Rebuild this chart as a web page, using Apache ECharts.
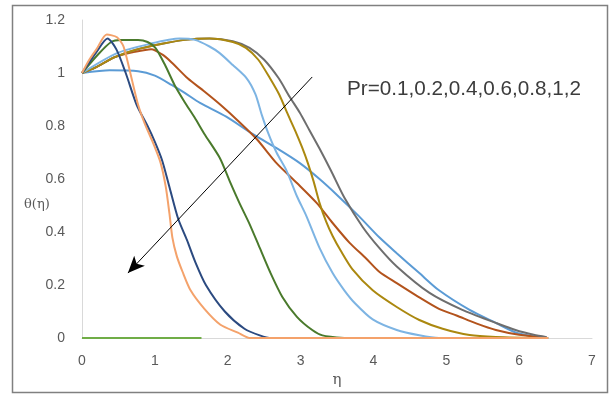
<!DOCTYPE html>
<html>
<head>
<meta charset="utf-8">
<script src="https://cdn.jsdelivr.net/npm/echarts@6/dist/echarts.min.js"></script>
<style>
html,body{margin:0;padding:0;background:#fff;}
#chart{width:611px;height:394px;}
</style>
</head>
<body>
<div id="chart"></div>
<script>
// tick labels
const xTicks = [0, 1, 2, 3, 4, 5, 6, 7];
const yTicks = [0, 0.2, 0.4, 0.6, 0.8, 1, 1.2];
const legendText = 'Pr=0.1,0.2,0.4,0.6,0.8,1,2';

// curves: [eta, theta]
const flatBlue = [[0,1],[0.38,1.01],[0.77,1.007],[1.0,0.99],[1.23,0.955],[1.41,0.925],[1.62,0.887],[1.98,0.835],[2.34,0.77],[2.71,0.71],[2.99,0.66],[3.26,0.6],[3.5,0.54],[3.8,0.46],[4.08,0.38],[4.32,0.32],[4.63,0.245],[4.9,0.18],[5.32,0.106],[5.68,0.057],[5.96,0.02],[6.23,0.005],[6.38,0]];
const brown = [[0,1],[0.18,1.02],[0.45,1.06],[0.73,1.08],[0.95,1.09],[1.1,1.07],[1.23,1.04],[1.45,0.98],[1.68,0.93],[1.9,0.88],[2.14,0.82],[2.4,0.75],[2.67,0.66],[2.95,0.585],[3.22,0.51],[3.44,0.434],[3.67,0.36],[3.9,0.3],[4.08,0.25],[4.32,0.207],[4.59,0.16],[4.9,0.11],[5.14,0.085],[5.41,0.055],[5.68,0.03],[6.0,0.012],[6.38,0]];
const gray = [[0,1],[0.18,1.02],[0.45,1.06],[0.73,1.087],[1.1,1.11],[1.41,1.125],[1.75,1.13],[2.07,1.12],[2.3,1.095],[2.5,1.05],[2.7,0.98],[2.85,0.91],[2.99,0.85],[3.12,0.785],[3.26,0.715],[3.42,0.63],[3.6,0.53],[3.85,0.42],[4.08,0.34],[4.32,0.27],[4.77,0.17],[5.22,0.106],[5.68,0.057],[5.95,0.03],[6.2,0.012],[6.38,0.003]];
const gold = [[0,1],[0.18,1.02],[0.45,1.06],[0.73,1.087],[1.1,1.11],[1.41,1.125],[1.75,1.13],[2.07,1.117],[2.25,1.095],[2.42,1.05],[2.58,0.98],[2.71,0.917],[2.81,0.853],[2.93,0.78],[3.02,0.72],[3.1,0.66],[3.18,0.59],[3.26,0.51],[3.35,0.44],[3.44,0.385],[3.55,0.33],[3.71,0.26],[3.99,0.18],[4.32,0.117],[4.63,0.068],[4.95,0.035],[5.32,0.011],[5.68,0.004],[6.4,0]];
const steepBlue = [[0,1],[0.48,1.075],[0.93,1.11],[1.34,1.13],[1.55,1.125],[1.75,1.1],[1.89,1.075],[2.07,1.03],[2.26,0.98],[2.38,0.92],[2.47,0.84],[2.56,0.77],[2.67,0.7],[2.81,0.63],[2.95,0.535],[3.08,0.46],[3.26,0.34],[3.44,0.245],[3.6,0.18],[3.75,0.13],[3.99,0.07],[4.32,0.03],[4.63,0.01],[4.9,0],[6.4,0]];
const darkGreen = [[0,1],[0.22,1.07],[0.4,1.117],[0.53,1.125],[0.77,1.125],[0.9,1.117],[1.01,1.094],[1.14,1.03],[1.27,0.955],[1.41,0.89],[1.55,0.83],[1.68,0.77],[1.89,0.68],[2.03,0.59],[2.16,0.51],[2.3,0.43],[2.44,0.34],[2.58,0.25],[2.75,0.155],[2.95,0.08],[3.16,0.03],[3.3,0.01],[3.6,0]];
const navy = [[0,1],[0.1,1.04],[0.2,1.08],[0.35,1.13],[0.47,1.09],[0.6,1.0],[0.75,0.88],[0.9,0.8],[1.0,0.74],[1.1,0.67],[1.2,0.57],[1.32,0.45],[1.44,0.37],[1.55,0.29],[1.7,0.2],[1.96,0.1],[2.23,0.035],[2.44,0.01],[2.6,0],[3.0,0]];
const orange = [[0,1],[0.1,1.05],[0.2,1.09],[0.34,1.145],[0.48,1.135],[0.57,1.1],[0.68,0.98],[0.77,0.88],[0.86,0.81],[0.97,0.74],[1.08,0.66],[1.15,0.57],[1.2,0.47],[1.24,0.38],[1.3,0.31],[1.38,0.25],[1.49,0.18],[1.68,0.11],[1.9,0.05],[2.14,0.02],[2.3,0],[6.4,0]];
const lightGreen = [[0,0],[1.64,0]];

// arrow annotation endpoints in data space
const arrowFrom = [3.16, 0.985];
const arrowTo = [0.63, 0.245];

const chart = echarts.init(document.getElementById('chart'));
const labelColor = '#595959';
function line(name, data, color, z) {
  return { name, type: 'line', data, showSymbol: false, symbol: 'none', smooth: 0.25, z: z,
    lineStyle: { color, width: 2 }, itemStyle: { color }, animation: false };
}
const series = [
  line('a', lightGreen, '#70AD47', 2),
  line('b', flatBlue, '#5B9BD5', 3),
  line('c', brown, '#B3531C', 3),
  line('d', gray, '#6E6E6E', 3),
  line('e', gold, '#AB880F', 3),
  line('f', steepBlue, '#7DB4E3', 3),
  line('g', darkGreen, '#4A7A2C', 3),
  line('h', navy, '#2B4A80', 3),
  line('i', orange, '#F4A26B', 3)
];
series.push({
  type: 'line', data: [], silent: true, animation: false,
  markLine: {
    silent: true, animation: false, symbol: ['none', 'arrow'], symbolSize: [11, 17],
    label: { show: false },
    lineStyle: { color: '#000', width: 1, type: 'solid' },
    data: [[{ coord: arrowFrom }, { coord: arrowTo }]]
  }
});
chart.setOption({
  backgroundColor: '#fff',
  animation: false,
  grid: { left: 82, right: 19, top: 20, bottom: 56, containLabel: false },
  xAxis: {
    type: 'value', min: xTicks[0], max: xTicks[xTicks.length - 1], interval: 1,
    name: 'η', nameLocation: 'middle', nameGap: 29,
    nameTextStyle: { color: labelColor, fontSize: 15, fontFamily: 'DejaVu Serif' },
    axisLine: { show: true, lineStyle: { color: '#D9D9D9', width: 1 } },
    axisTick: { show: false }, splitLine: { show: false },
    axisLabel: { color: labelColor, fontSize: 14, margin: 16, fontFamily: 'Liberation Sans' }
  },
  yAxis: {
    type: 'value', min: yTicks[0], max: yTicks[yTicks.length - 1], interval: 0.2,
    axisLine: { show: true, lineStyle: { color: '#D9D9D9', width: 1 } },
    axisTick: { show: false }, splitLine: { show: false },
    axisLabel: { color: labelColor, fontSize: 14, margin: 17, fontFamily: 'Liberation Sans',
      formatter: v => String(Math.round(v * 10) / 10) }
  },
  graphic: [
    { type: 'rect', shape: { x: 12.5, y: 5.5, width: 595, height: 387 },
      style: { fill: 'none', stroke: '#808080', lineWidth: 1.5 }, silent: true, z: 0 },
    { type: 'text', left: 24, top: 198,
      style: { text: 'θ(η)', fill: labelColor, font: '13px "DejaVu Serif"' } },
    { type: 'text', left: 347, top: 79,
      style: { text: legendText, fill: '#3C3C3C', font: '20.7px "Liberation Sans"' } }
  ],
  series
});
</script>
</body>
</html>
